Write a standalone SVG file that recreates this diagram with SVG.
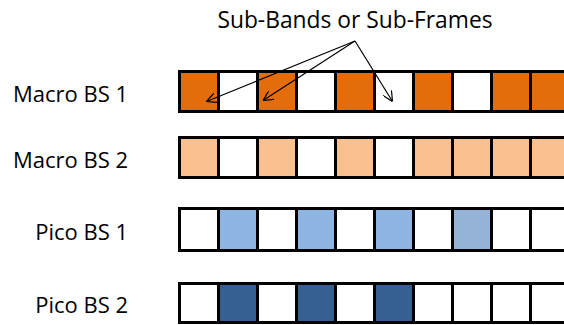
<svg xmlns="http://www.w3.org/2000/svg" width="564" height="325" viewBox="0 0 564 325">
<style>
.lbl{font-family:"Open Sans","Liberation Sans",sans-serif;font-size:22px;fill:#000}
.ttl{font-size:22.8px}
.c{stroke:#000;stroke-width:3}
.w{fill:#fff}.o{fill:#E46C0A}.lo{fill:#FAC090}.b{fill:#8EB4E3}.g{fill:#95B3D7}.d{fill:#376092}
.con{stroke:#000;stroke-width:1.2;fill:none}
</style>
<defs>
<marker id="ah" viewBox="0 0 10 10" refX="10" refY="5" markerWidth="10" markerHeight="10" markerUnits="userSpaceOnUse" orient="auto">
<path d="M0,0 L10,5 L0,10" fill="none" stroke="#000" stroke-width="1.2"/>
</marker>
</defs>
<rect width="564" height="325" fill="#fff"/>
<text class="lbl ttl" x="355" y="28" text-anchor="middle">Sub-Bands or Sub-Frames</text>
<g id="macro1">
<text class="lbl" x="128" y="102" text-anchor="end">Macro BS 1</text>
<rect class="c o" x="179.5" y="71.5" width="39" height="40"/>
<rect class="c w" x="218.5" y="71.5" width="39" height="40"/>
<rect class="c o" x="257.5" y="71.5" width="39" height="40"/>
<rect class="c w" x="296.5" y="71.5" width="39" height="40"/>
<rect class="c o" x="335.5" y="71.5" width="39" height="40"/>
<rect class="c w" x="374.5" y="71.5" width="39" height="40"/>
<rect class="c o" x="413.5" y="71.5" width="39" height="40"/>
<rect class="c w" x="452.5" y="71.5" width="39" height="40"/>
<rect class="c o" x="491.5" y="71.5" width="39" height="40"/>
<rect class="c o" x="530.5" y="71.5" width="39" height="40"/>
</g>
<g id="macro2">
<text class="lbl" x="128" y="168" text-anchor="end">Macro BS 2</text>
<rect class="c lo" x="179.5" y="137.5" width="39" height="40"/>
<rect class="c w" x="218.5" y="137.5" width="39" height="40"/>
<rect class="c lo" x="257.5" y="137.5" width="39" height="40"/>
<rect class="c w" x="296.5" y="137.5" width="39" height="40"/>
<rect class="c lo" x="335.5" y="137.5" width="39" height="40"/>
<rect class="c w" x="374.5" y="137.5" width="39" height="40"/>
<rect class="c lo" x="413.5" y="137.5" width="39" height="40"/>
<rect class="c lo" x="452.5" y="137.5" width="39" height="40"/>
<rect class="c lo" x="491.5" y="137.5" width="39" height="40"/>
<rect class="c lo" x="530.5" y="137.5" width="39" height="40"/>
</g>
<g id="pico1">
<text class="lbl" x="128" y="240" text-anchor="end">Pico BS 1</text>
<rect class="c w" x="179.5" y="208.5" width="39" height="42"/>
<rect class="c b" x="218.5" y="208.5" width="39" height="42"/>
<rect class="c w" x="257.5" y="208.5" width="39" height="42"/>
<rect class="c b" x="296.5" y="208.5" width="39" height="42"/>
<rect class="c w" x="335.5" y="208.5" width="39" height="42"/>
<rect class="c b" x="374.5" y="208.5" width="39" height="42"/>
<rect class="c w" x="413.5" y="208.5" width="39" height="42"/>
<rect class="c g" x="452.5" y="208.5" width="39" height="42"/>
<rect class="c w" x="491.5" y="208.5" width="39" height="42"/>
<rect class="c w" x="530.5" y="208.5" width="39" height="42"/>
</g>
<g id="pico2">
<text class="lbl" x="128" y="313" text-anchor="end">Pico BS 2</text>
<rect class="c w" x="179.5" y="283.5" width="39" height="39"/>
<rect class="c d" x="218.5" y="283.5" width="39" height="39"/>
<rect class="c w" x="257.5" y="283.5" width="39" height="39"/>
<rect class="c d" x="296.5" y="283.5" width="39" height="39"/>
<rect class="c w" x="335.5" y="283.5" width="39" height="39"/>
<rect class="c d" x="374.5" y="283.5" width="39" height="39"/>
<rect class="c w" x="413.5" y="283.5" width="39" height="39"/>
<rect class="c w" x="452.5" y="283.5" width="39" height="39"/>
<rect class="c w" x="491.5" y="283.5" width="39" height="39"/>
<rect class="c w" x="530.5" y="283.5" width="39" height="39"/>
</g>
<g id="connectors">
<line class="con" x1="355" y1="41" x2="206.5" y2="101.5" marker-end="url(#ah)"/>
<line class="con" x1="355" y1="41" x2="263" y2="100.5" marker-end="url(#ah)"/>
<line class="con" x1="355" y1="41" x2="392.5" y2="101.5" marker-end="url(#ah)"/>
</g>
</svg>
